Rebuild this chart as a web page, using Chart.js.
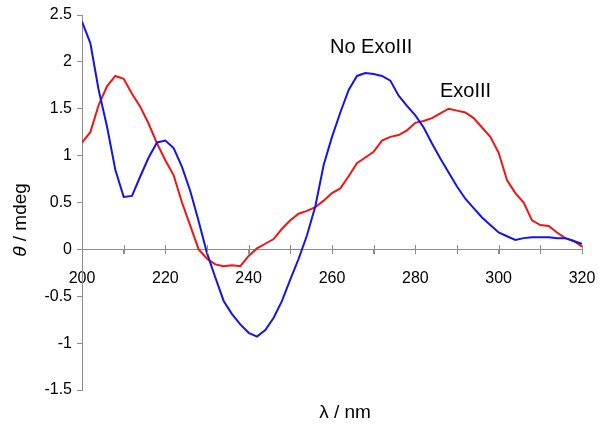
<!DOCTYPE html>
<html>
<head>
<meta charset="utf-8">
<script src="https://cdn.jsdelivr.net/npm/chart.js@4"></script>
<style>
  html, body { margin: 0; padding: 0; background: #fff; }
  #wrap { width: 601px; height: 430px; }
</style>
</head>
<body>
<div id="wrap"><canvas id="cdChart" width="601" height="430"></canvas></div>
<script>
// wavelength in nm, every 2 nm
const wavelengths = [];
for (let w = 200; w <= 320; w += 2) wavelengths.push(w);

const noExoIII = [
  2.43, 2.2, 1.7, 1.31, 0.85, 0.56, 0.57, 0.78, 0.98, 1.14,
  1.16, 1.08, 0.88, 0.62, 0.3, -0.04, -0.3, -0.55, -0.69, -0.8,
  -0.89, -0.93, -0.86, -0.73, -0.55, -0.32, -0.1, 0.15, 0.46, 0.9,
  1.2, 1.46, 1.7, 1.85, 1.88, 1.87, 1.85, 1.8, 1.64, 1.53,
  1.43, 1.3, 1.13, 0.97, 0.82, 0.67, 0.54, 0.44, 0.34, 0.26,
  0.18, 0.14, 0.1, 0.12, 0.13, 0.13, 0.13, 0.12, 0.12, 0.09,
  0.06
];

const exoIII = [
  1.14, 1.25, 1.54, 1.74, 1.85, 1.82, 1.66, 1.52, 1.34, 1.13,
  0.95, 0.79, 0.5, 0.25, 0.0, -0.1, -0.16, -0.18, -0.17, -0.18,
  -0.07, 0.01, 0.06, 0.11, 0.22, 0.31, 0.38, 0.41, 0.45, 0.52,
  0.6, 0.65, 0.78, 0.92, 0.98, 1.04, 1.16, 1.2, 1.22, 1.27,
  1.35, 1.37, 1.4, 1.45, 1.5, 1.48, 1.46, 1.4, 1.3, 1.2,
  1.03, 0.74, 0.6, 0.5, 0.31, 0.26, 0.25, 0.18, 0.12, 0.09,
  0.03
];

const axisColor = '#8c8c8c';
const fontFamily = 'Arial, "Liberation Sans", sans-serif';

function pts(ys) {
  return wavelengths.map((w, i) => ({x: w, y: ys[i]}));
}

// text labels, cross ticks on x axis, axis titles
const extras = {
  id: 'extras',
  afterDraw(chart) {
    const c = chart.ctx;
    const xs = chart.scales.x, ys = chart.scales.y;
    const y0 = Math.round(ys.getPixelForValue(0));
    c.save();
    // crossing ticks on the x axis
    c.strokeStyle = axisColor;
    c.lineWidth = 1;
    for (let w = 210; w <= 320; w += 10) {
      const px = Math.round(xs.getPixelForValue(w)) + 0.5;
      c.beginPath();
      c.moveTo(px, y0 - 4);
      c.lineTo(px, y0 + 5);
      c.stroke();
    }
    c.fillStyle = '#000';
    c.textBaseline = 'alphabetic';
    c.font = '20px ' + fontFamily;
    c.textAlign = 'left';
    c.fillText('No ExoIII', 330, 53);
    c.fillText('ExoIII', 440, 97);

    // x title
    c.font = '19px ' + fontFamily;
    c.textAlign = 'center';
    c.fillText('λ / nm', 345, 418);

    // y title, italic theta
    c.translate(26, 220);
    c.rotate(-Math.PI / 2);
    c.font = 'italic 19px ' + fontFamily;
    const t1 = 'θ';
    const w1 = c.measureText(t1).width;
    c.font = '19px ' + fontFamily;
    const t2 = ' / mdeg';
    const w2 = c.measureText(t2).width;
    const start = -(w1 + w2) / 2;
    c.textAlign = 'left';
    c.font = 'italic 19px ' + fontFamily;
    c.fillText(t1, start, 0);
    c.font = '19px ' + fontFamily;
    c.fillText(t2, start + w1, 0);
    c.restore();
  }
};

const ctx = document.getElementById('cdChart').getContext('2d');
const myChart = new Chart(ctx, {
  type: 'line',
  data: {
    datasets: [
      {
        label: 'No ExoIII',
        data: pts(noExoIII),
        borderColor: '#1414e8',
        borderWidth: 2,
        pointRadius: 0,
        fill: false,
        tension: 0
      },
      {
        label: 'ExoIII',
        data: pts(exoIII),
        borderColor: '#f01414',
        borderWidth: 2,
        pointRadius: 0,
        fill: false,
        tension: 0
      }
    ]
  },
  options: {
    responsive: false,
    animation: false,
    layout: {padding: {top: 15, right: 19, bottom: 40, left: 0}},
    plugins: {
      legend: {display: false},
      tooltip: {enabled: false}
    },
    scales: {
      x: {
        type: 'linear',
        position: {y: 0},
        min: 200,
        max: 320,
        afterFit(scale) {
          scale.height = 0;
          scale.paddingLeft = 0;
          scale.paddingRight = 0;
        },
        border: {color: axisColor},
        grid: {drawOnChartArea: false, drawTicks: true, tickLength: 4, color: axisColor},
        ticks: {
          stepSize: 10,
          autoSkip: false,
          maxRotation: 0,
          padding: 16,
          color: '#000',
          font: {family: fontFamily, size: 16},
          callback: (v) => (v % 20 === 0 ? String(v) : '')
        }
      },
      y: {
        min: -1.5,
        max: 2.5,
        afterFit(scale) {
          scale.width = 82;
          scale.paddingTop = 0;
          scale.paddingBottom = 0;
        },
        border: {color: axisColor},
        grid: {drawOnChartArea: false, drawTicks: true, tickLength: 5, color: axisColor},
        ticks: {
          stepSize: 0.5,
          padding: 5,
          color: '#000',
          font: {family: fontFamily, size: 16},
          callback: (v) => String(v)
        }
      }
    }
  },
  plugins: [extras]
});
</script>
</body>
</html>
